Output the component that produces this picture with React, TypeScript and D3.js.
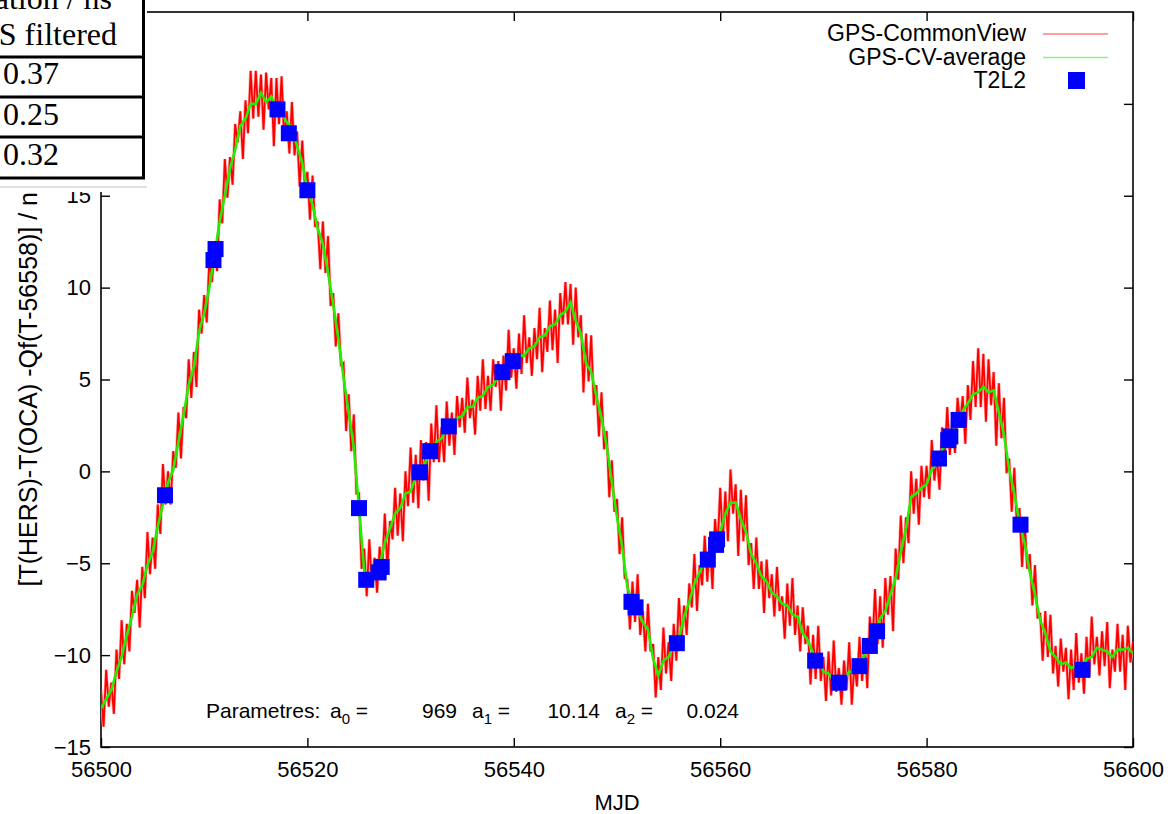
import React, { useEffect, useRef } from "react";
import * as d3 from "d3";

// GPS common-view samples, one every 0.25 day from MJD 56500
const mjdStart = 56500;
const commonViewStep = 0.25;
const averageStep = 0.5;

const commonView = [
  -11.9, -13.9, -10.8, -12.8, -11.5, -13.2, -9.7, -11.3, -8.1, -10.5, -8.3, -9.8, -6.5, -7.7, -5.9, -8.5, -5.2, -6.9, -3.3, -5.6,
  -3.6, -5.3, -1.8, -3.4, 0.4, -1.8, 0.0, -1.8, 1.1, 0.2, 3.2, 0.7, 3.5, 2.9, 6.1, 4.0, 6.5, 4.6, 8.8, 7.5,
  9.6, 8.1, 11.6, 10.3, 12.2, 10.9, 14.8, 13.5, 17.0, 14.9, 17.1, 15.6, 18.9, 17.9, 19.6, 17.0, 20.2, 18.4, 21.8, 19.2,
  21.8, 19.3, 21.6, 18.6, 21.7, 19.7, 21.4, 17.7, 21.4, 18.9, 21.5, 18.1, 19.6, 17.3, 20.1, 17.2, 18.5, 15.5, 18.0, 15.5,
  16.3, 13.7, 16.1, 13.3, 13.6, 11.0, 13.6, 10.8, 12.8, 9.0, 9.7, 6.8, 8.6, 5.8, 5.9, 2.2, 4.2, 1.1, 3.1, -1.2,
  -1.2, -5.3, -4.2, -6.8, -3.7, -6.2, -4.7, -6.6, -4.1, -5.3, -2.3, -5.3, -2.7, -3.7, -0.9, -3.5, -1.2, -3.8, 0.0, -1.9,
  1.3, -1.7, 0.9, -2.0, 1.7, -0.5, 1.6, -1.6, 2.6, 0.5, 3.6, 0.5, 2.4, 0.5, 3.8, 1.4, 3.2, 0.9, 4.1, 2.4,
  4.0, 2.1, 5.1, 2.9, 3.9, 2.0, 5.2, 3.3, 6.1, 3.4, 5.2, 3.3, 6.1, 4.6, 6.0, 3.3, 6.3, 4.4, 7.7, 5.1,
  6.7, 4.5, 7.5, 5.3, 8.5, 5.9, 7.3, 5.2, 7.8, 6.1, 8.9, 5.4, 7.8, 6.5, 9.3, 6.6, 8.8, 5.9, 9.7, 8.0,
  10.3, 8.0, 10.2, 6.9, 10.0, 7.3, 8.5, 4.3, 7.5, 4.9, 7.4, 3.6, 4.7, 1.9, 4.3, 1.2, 2.2, -1.4, 0.6, -2.2,
  -1.5, -4.5, -2.5, -5.8, -5.9, -8.6, -6.0, -8.2, -5.6, -8.9, -7.6, -9.8, -7.2, -9.8, -9.4, -12.3, -10.1, -11.9, -8.5, -11.0,
  -9.3, -11.4, -8.3, -10.3, -6.9, -9.1, -7.3, -8.9, -6.1, -7.4, -4.5, -7.6, -5.1, -6.2, -3.5, -6.0, -3.8, -6.4, -2.6, -4.2,
  -0.9, -3.8, -1.1, -3.8, 0.1, -2.3, -0.7, -4.6, -1.0, -3.8, -1.3, -5.1, -3.9, -6.4, -3.6, -6.4, -4.9, -7.7, -4.8, -6.9,
  -5.6, -7.9, -5.2, -7.6, -6.8, -9.1, -6.1, -8.4, -5.8, -8.9, -7.3, -9.8, -7.4, -9.4, -8.4, -11.6, -8.9, -11.3, -8.4, -11.4,
  -10.1, -12.5, -9.8, -12.2, -9.2, -12.0, -10.7, -12.7, -10.3, -11.9, -9.3, -12.7, -10.5, -11.7, -9.0, -11.4, -9.2, -11.8, -7.9, -9.6,
  -6.4, -9.4, -6.8, -9.6, -5.8, -7.8, -5.7, -8.7, -4.2, -5.9, -2.4, -5.0, -2.5, -3.9, 0.0, -2.3, -0.4, -2.9, 0.3, -1.4,
  0.3, -1.5, 1.7, -0.5, 0.8, -1.0, 2.4, 0.6, 3.5, 0.9, 2.8, 1.0, 4.0, 2.6, 4.1, 1.5, 4.7, 2.8, 6.0, 3.5,
  6.7, 3.5, 6.4, 2.7, 6.1, 3.6, 5.4, 1.4, 4.8, 1.8, 4.0, -0.1, 0.7, -2.2, 0.2, -3.0, -2.0, -5.2, -2.7, -5.3,
  -4.5, -7.3, -5.1, -8.0, -7.7, -10.3, -7.6, -10.1, -7.8, -11.0, -9.5, -11.7, -9.1, -10.9, -9.6, -12.4, -9.7, -11.9, -8.8, -11.5,
  -9.9, -12.1, -9.0, -11.2, -7.9, -10.5, -9.0, -11.1, -8.7, -10.6, -8.2, -11.8, -9.7, -10.9, -8.3, -10.9, -8.9, -11.9, -8.4, -10.4,
  -9.3,
];

// averaged CV, one every 0.5 day
const cvAverage = [
  -12.9, -12.4, -11.9, -10.9, -10.1, -8.9, -7.9, -6.7, -6.2, -5.1,
  -4.4, -3.0, -1.8, -0.6, 0.1, 1.6, 3.1, 4.7, 5.7, 7.6,
  8.6, 10.0, 11.8, 13.6, 15.0, 16.5, 17.5, 18.8, 19.2, 20.0,
  20.0, 20.6, 20.1, 20.4, 19.8, 19.5, 19.0, 18.7, 17.7, 16.8,
  15.3, 14.5, 13.2, 12.4, 10.8, 9.1, 7.2, 5.1, 3.2, 1.3,
  -2.0, -5.4, -5.9, -5.3, -5.1, -3.9, -3.1, -2.3, -2.0, -1.2,
  -1.1, -0.3, -0.1, 0.6, 1.0, 1.6, 1.8, 2.4, 2.4, 2.9,
  3.0, 3.5, 3.5, 4.0, 4.1, 4.6, 4.7, 5.2, 5.3, 5.9,
  5.9, 6.3, 6.3, 6.7, 6.8, 7.3, 7.4, 7.9, 8.0, 8.5,
  8.7, 9.2, 8.2, 7.5, 5.9, 5.4, 4.1, 2.9, 1.4, -0.6,
  -2.5, -4.1, -6.3, -7.2, -7.6, -8.2, -8.6, -10.2, -11.1, -10.3,
  -10.1, -9.5, -9.1, -7.9, -7.1, -6.1, -5.5, -4.9, -4.6, -3.8,
  -3.3, -2.3, -1.7, -1.7, -2.6, -3.3, -4.5, -5.0, -5.7, -6.0,
  -6.6, -6.8, -7.2, -7.3, -7.8, -7.9, -8.8, -9.2, -9.9, -10.2,
  -10.9, -11.0, -11.4, -11.3, -11.3, -10.9, -10.9, -10.4, -10.0, -9.1,
  -8.8, -8.0, -7.6, -6.7, -5.8, -4.4, -3.1, -1.4, -1.2, -0.9,
  -0.7, 0.1, 0.4, 1.2, 1.5, 2.2, 2.6, 3.3, 3.7, 4.2,
  4.3, 4.6, 4.3, 4.4, 3.2, 2.0, 0.1, -1.2, -2.8, -3.9,
  -5.5, -6.7, -8.1, -8.8, -9.8, -10.1, -10.5, -10.4, -10.7, -10.6,
  -10.7, -10.2, -10.1, -9.6, -9.7, -9.8, -10.1, -9.7, -9.7, -9.6,
  -9.9,
];

const t2l2Mjd = [
  56506.2, 56510.9, 56511.1, 56517.1, 56518.2, 56520.0, 56525.0, 56525.7, 56526.9, 56527.2,
  56530.9, 56531.9, 56533.7, 56538.9, 56539.9, 56551.4, 56551.8, 56555.8, 56558.8, 56559.6,
  56559.7, 56569.2, 56571.5, 56573.5, 56574.5, 56575.2, 56581.2, 56582.1, 56582.3, 56583.1,
  56589.1, 56595.1,
];
const t2l2Offset = [
  -1.3, 11.5, 12.1, 19.7, 18.4, 15.3, -2.0, -5.9, -5.5, -5.2,
  -0.05, 1.1, 2.45, 5.4, 6.0, -7.1, -7.4, -9.35, -4.8, -4.0,
  -3.7, -10.3, -11.5, -10.6, -9.5, -8.7, 0.7, 1.7, 1.9, 2.8,
  -2.9, -10.8,
];

const xTicks = [56500, 56520, 56540, 56560, 56580, 56600];
const yTicks = [-15, -10, -5, 0, 5, 10, 15, 20];
const legendLabels = ["GPS-CommonView", "GPS-CV-average", "T2L2"];
const tableHeader = ["Deviation / ns", "GPS filtered"];
const tableValues = ["0.37", "0.25", "0.32"];
const fitIndex = ["0", "1", "2"];
const fitValues = ["969", "10.14", "0.024"];

const sans = "'Liberation Sans', Arial, sans-serif";
const serif = "'Liberation Serif', 'Times New Roman', serif";

function App() {
  const ref = useRef<SVGSVGElement>(null);
  const width = 1171;
  const height = 814;
  const margin = { top: 12, right: 38, bottom: 67, left: 101 };

  useEffect(() => {
    drawChart();
  }, []);

  function drawChart() {
    const svg = d3.select(ref.current);
    svg.selectAll("*").remove();

    const x = d3
      .scaleLinear()
      .domain([56500, 56600])
      .range([margin.left, width - margin.right]);
    const y = d3
      .scaleLinear()
      .domain([-15, 25])
      .range([height - margin.bottom, margin.top]);

    svg.append("rect").attr("width", width).attr("height", height).attr("fill", "#fff");

    svg
      .append("clipPath")
      .attr("id", "plot-clip")
      .append("rect")
      .attr("x", x(56500))
      .attr("y", y(25))
      .attr("width", x(56600) - x(56500))
      .attr("height", y(-15) - y(25));

    // axes, ticks drawn inward on all four sides
    const bottom = svg
      .append("g")
      .attr("transform", `translate(0,${y(-15)})`)
      .call(d3.axisBottom(x).tickValues(xTicks).tickSize(-9).tickPadding(14).tickFormat(d3.format("d")));
    const left = svg
      .append("g")
      .attr("transform", `translate(${x(56500)},0)`)
      .call(d3.axisLeft(y).tickValues(yTicks).tickSize(-9).tickPadding(10));
    const top = svg
      .append("g")
      .attr("transform", `translate(0,${y(25)})`)
      .call(d3.axisTop(x).tickValues(xTicks).tickSize(-9).tickFormat(() => ""));
    const right = svg
      .append("g")
      .attr("transform", `translate(${x(56600)},0)`)
      .call(d3.axisRight(y).tickValues(yTicks).tickSize(-9).tickFormat(() => ""));

    [bottom, left, top, right].forEach((g) => {
      g.select(".domain").remove();
      g.selectAll("line").attr("stroke", "#000").attr("stroke-width", 1.4);
      g.selectAll("text")
        .attr("fill", "#000")
        .attr("font-family", sans)
        .attr("font-size", 22);
    });

    svg
      .append("rect")
      .attr("x", x(56500))
      .attr("y", y(25))
      .attr("width", x(56600) - x(56500))
      .attr("height", y(-15) - y(25))
      .attr("fill", "none")
      .attr("stroke", "#000")
      .attr("stroke-width", 1.6);

    svg
      .append("text")
      .attr("x", (x(56500) + x(56600)) / 2)
      .attr("y", 810)
      .attr("text-anchor", "middle")
      .attr("font-family", sans)
      .attr("font-size", 22)
      .text("MJD");

    svg
      .append("text")
      .attr("transform", `translate(37,383) rotate(-90)`)
      .attr("text-anchor", "middle")
      .attr("font-family", sans)
      .attr("font-size", 25)
      .text("[T(HERS)-T(OCA) -Qf(T-56558)] / ns");

    const plot = svg.append("g").attr("clip-path", "url(#plot-clip)");

    const cvLine = d3
      .line<number>()
      .x((_, i) => x(mjdStart + i * commonViewStep))
      .y((d) => y(d));
    const avgLine = d3
      .line<number>()
      .x((_, i) => x(mjdStart + i * averageStep))
      .y((d) => y(d));

    // faint halo under the noisy CV trace, then the trace itself
    plot
      .append("path")
      .attr("d", cvLine(commonView))
      .attr("fill", "none")
      .attr("stroke", "#ffb0b0")
      .attr("stroke-width", 3.2);
    plot
      .append("path")
      .attr("d", cvLine(commonView))
      .attr("fill", "none")
      .attr("stroke", "#ff0000")
      .attr("stroke-width", 1.8);

    plot
      .append("path")
      .attr("d", avgLine(cvAverage))
      .attr("fill", "none")
      .attr("stroke", "#22ee00")
      .attr("stroke-width", 2.6);

    plot
      .selectAll("rect.t2l2")
      .data(t2l2Mjd)
      .enter()
      .append("rect")
      .attr("class", "t2l2")
      .attr("x", (d) => x(d) - 8)
      .attr("y", (_, i) => y(t2l2Offset[i]) - 8)
      .attr("width", 16)
      .attr("height", 16)
      .attr("fill", "#0000ff");

    // legend
    const legendColors = ["#ff8080", "#90ee90"];
    legendLabels.forEach((label, i) => {
      const base = 41 + i * 23.5;
      svg
        .append("text")
        .attr("x", 1026)
        .attr("y", base)
        .attr("text-anchor", "end")
        .attr("font-family", sans)
        .attr("font-size", 23)
        .text(label);
      if (i < 2) {
        svg
          .append("line")
          .attr("x1", 1043)
          .attr("x2", 1108)
          .attr("y1", base - 7)
          .attr("y2", base - 7)
          .attr("stroke", legendColors[i])
          .attr("stroke-width", 1.5);
      } else {
        svg
          .append("rect")
          .attr("x", 1068)
          .attr("y", base - 16)
          .attr("width", 17)
          .attr("height", 17)
          .attr("fill", "#0000ff");
      }
    });

    // fit parameters
    const params = svg
      .append("g")
      .attr("font-family", sans)
      .attr("font-size", 21)
      .attr("fill", "#000");
    params.append("text").attr("x", 206).attr("y", 718).text("Parametres:");
    const labelX = [330, 472, 615];
    const valueEnd = [457, 600, 739];
    fitIndex.forEach((k, i) => {
      const t = params.append("text").attr("x", labelX[i]).attr("y", 718);
      t.append("tspan").text("a");
      t.append("tspan").attr("dy", 6).attr("font-size", 15).text(k);
      t.append("tspan").attr("dy", -6).text(" =");
      params
        .append("text")
        .attr("x", valueEnd[i])
        .attr("y", 718)
        .attr("text-anchor", "end")
        .text(fitValues[i]);
    });

    // overlaid statistics table (top left), cropped by the page edge
    const table = svg.append("g");
    table
      .append("rect")
      .attr("x", -10)
      .attr("y", -10)
      .attr("width", 157)
      .attr("height", 202)
      .attr("fill", "#fff");
    table
      .append("line")
      .attr("x1", 0)
      .attr("x2", 147)
      .attr("y1", 187)
      .attr("y2", 187)
      .attr("stroke", "#e2e2e2")
      .attr("stroke-width", 2);
    table
      .append("rect")
      .attr("x", -10)
      .attr("y", -10)
      .attr("width", 153.5)
      .attr("height", 188)
      .attr("fill", "#fff")
      .attr("stroke", "#000")
      .attr("stroke-width", 3);
    [57, 97, 137].forEach((ly) => {
      table
        .append("line")
        .attr("x1", -10)
        .attr("x2", 143.5)
        .attr("y1", ly)
        .attr("y2", ly)
        .attr("stroke", "#000")
        .attr("stroke-width", 3);
    });
    tableHeader.forEach((h, i) => {
      table
        .append("text")
        .attr("x", i === 0 ? 112 : 117)
        .attr("y", 9 + i * 36)
        .attr("text-anchor", "end")
        .attr("font-family", serif)
        .attr("font-size", 32)
        .text(h);
    });
    tableValues.forEach((v, i) => {
      table
        .append("text")
        .attr("x", 3)
        .attr("y", 84 + i * 40.5)
        .attr("font-family", serif)
        .attr("font-size", 32)
        .text(v);
    });
  }

  return (
    <svg
      ref={ref}
      width={width}
      height={height}
      style={{ position: "absolute", left: 0, top: 0, display: "block" }}
    />
  );
}

export default App;
